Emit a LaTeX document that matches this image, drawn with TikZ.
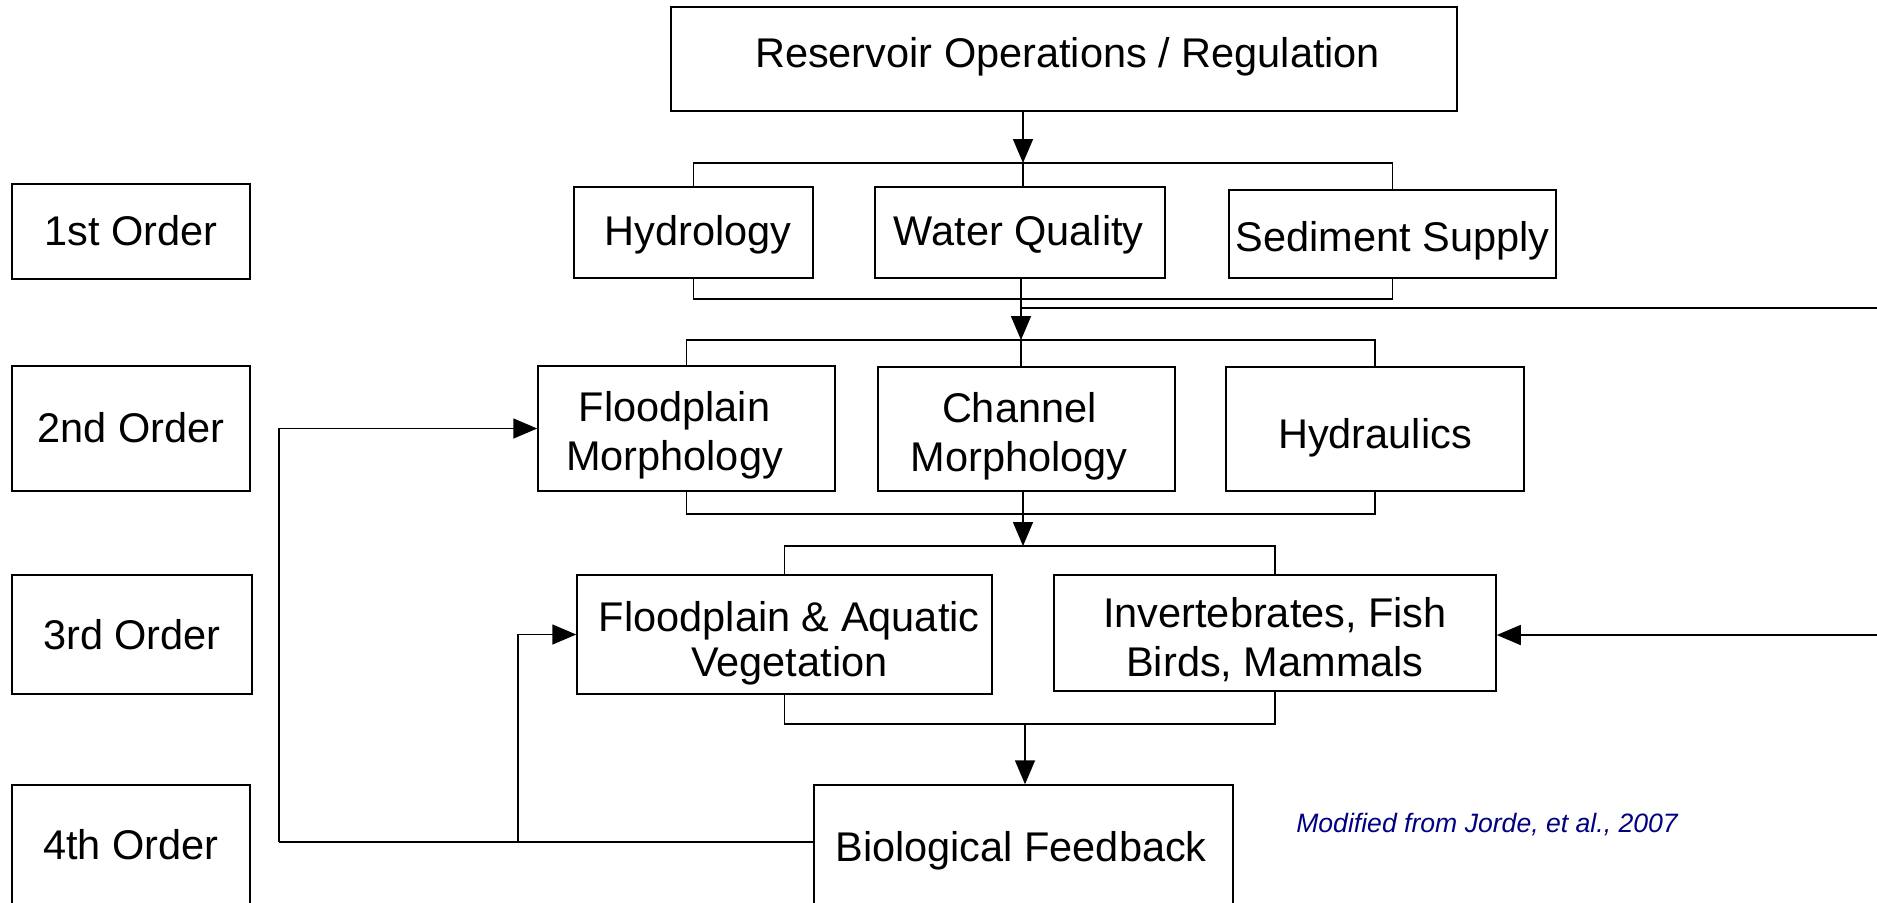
\documentclass[tikz,border=0pt]{standalone}
\usepackage{fontspec}
\setmainfont{Liberation Sans}
\usetikzlibrary{arrows.meta}
\definecolor{creditblue}{RGB}{0,0,128}
\begin{document}
\begin{tikzpicture}[x=0.5pt,y=-0.5pt,
  box/.style={draw,line width=0.75pt,inner sep=0pt},
  lbl/.style={inner sep=0pt,align=center,font=\fontsize{20.75}{24.5}\selectfont},
  conn/.style={line width=0.75pt},
  arr/.style={line width=0.75pt,-{Triangle[length=12pt,width=10pt]}}]
\useasboundingbox (0,0) rectangle (1877,902);
% nodes
\node[box,minimum width=393pt,minimum height=52pt,
  label={[lbl,xshift=1.8pt,yshift=1.2pt]center:Reservoir Operations / Regulation}] (res) at (1064,59) {};
\node[box,minimum width=119pt,minimum height=47.5pt,
  label={[lbl,yshift=0.6pt]center:1st Order}] (o1) at (131,231.5) {};
\node[box,minimum width=119.5pt,minimum height=45.5pt,
  label={[lbl,xshift=2.4pt,yshift=-1.2pt]center:Hydrology}] (hyd) at (693.5,232.5) {};
\node[box,minimum width=145pt,minimum height=45.5pt,
  label={[lbl,xshift=-0.6pt,yshift=-1.2pt]center:Water Quality}] (wq) at (1020,232.5) {};
\node[box,minimum width=163.5pt,minimum height=44pt,
  label={[lbl,yshift=-3.6pt]center:Sediment Supply}] (sed) at (1392.5,234) {};
\node[box,minimum width=119pt,minimum height=62.5pt,
  label={[lbl,yshift=0.6pt]center:2nd Order}] (o2) at (131,428.5) {};
\node[box,minimum width=148.5pt,minimum height=62.5pt,
  label={[lbl,xshift=-6pt,yshift=-3.6pt]center:Floodplain\\Morphology}] (fm) at (686.5,428.5) {};
\node[box,minimum width=148.5pt,minimum height=62pt,
  label={[lbl,xshift=-3.6pt,yshift=-3.6pt]center:Channel\\Morphology}] (cm) at (1026.5,429) {};
\node[box,minimum width=149pt,minimum height=62pt,
  label={[lbl,yshift=-4.2pt]center:Hydraulics}] (hdr) at (1375,429) {};
\node[box,minimum width=120pt,minimum height=59.5pt,
  label={[lbl]center:3rd Order}] (o3) at (132,634.5) {};
\node[box,minimum width=207.5pt,minimum height=59.5pt,
  label={[lbl,xshift=2.4pt,yshift=-4.5pt,font=\fontsize{20.75}{22.5}\selectfont]center:Floodplain \& Aquatic\\Vegetation}] (fav) at (784.5,634.5) {};
\node[box,minimum width=221pt,minimum height=58pt,
  label={[lbl,yshift=-3.3pt]center:{Invertebrates, Fish\\Birds, Mammals}}] (inv) at (1275,633) {};
\node[box,minimum width=119pt,minimum height=60pt,
  label={[lbl]center:4th Order}] (o4) at (131,845) {};
\node[box,minimum width=209.5pt,minimum height=63pt,
  label={[lbl,xshift=-1.2pt,yshift=-1.2pt]center:Biological Feedback}] (bio) at (1023.5,848) {};
\node[font=\fontsize{13.3}{16}\selectfont\itshape,text=creditblue,inner sep=0pt] (credit) at (1487,825) {Modified from Jorde, et al., 2007};
% junction coordinates
\coordinate (j1) at (1023,163);
\coordinate (k1) at (1021,299);
\coordinate (j2) at (1021,340);
\coordinate (e1) at (1877,308);
\coordinate (k2) at (1023,514);
\coordinate (j3) at (1023,546);
\coordinate (k3) at (1025,724);
\coordinate (e2) at (1877,635);
\coordinate (f1) at (279,842);
\coordinate (f2) at (518,842);
% level 1
\draw[arr] (res.south -| j1) -- (j1);
\draw[conn] (hyd.north) |- (j1) -| (sed.north);
\draw[conn] (j1) -- (j1 |- wq.north);
\draw[conn] (hyd.south) |- (k1) -| (sed.south);
\draw[arr] (j2 |- wq.south) -- (j2);
\draw[conn] (j2 |- e1) -- (e1);
% level 2
\draw[conn] (fm.north) |- (j2) -| (hdr.north);
\draw[conn] (j2) -- (j2 |- cm.north);
\draw[conn] (fm.south) |- (k2) -| (hdr.south);
\draw[arr] (j3 |- cm.south) -- (j3);
% level 3
\draw[conn] (fav.north) |- (j3) -| (inv.north);
\draw[conn] (fav.south) |- (k3) -| (inv.south);
\draw[arr] (k3) -- (k3 |- bio.north);
\draw[arr] (e2) -- (inv.east |- e2);
% feedback
\draw[conn] (bio.west |- f1) -- (f1);
\draw[arr] (f1) |- (fm.west);
\draw[arr] (f2) |- (fav.west);
\end{tikzpicture}
\end{document}
